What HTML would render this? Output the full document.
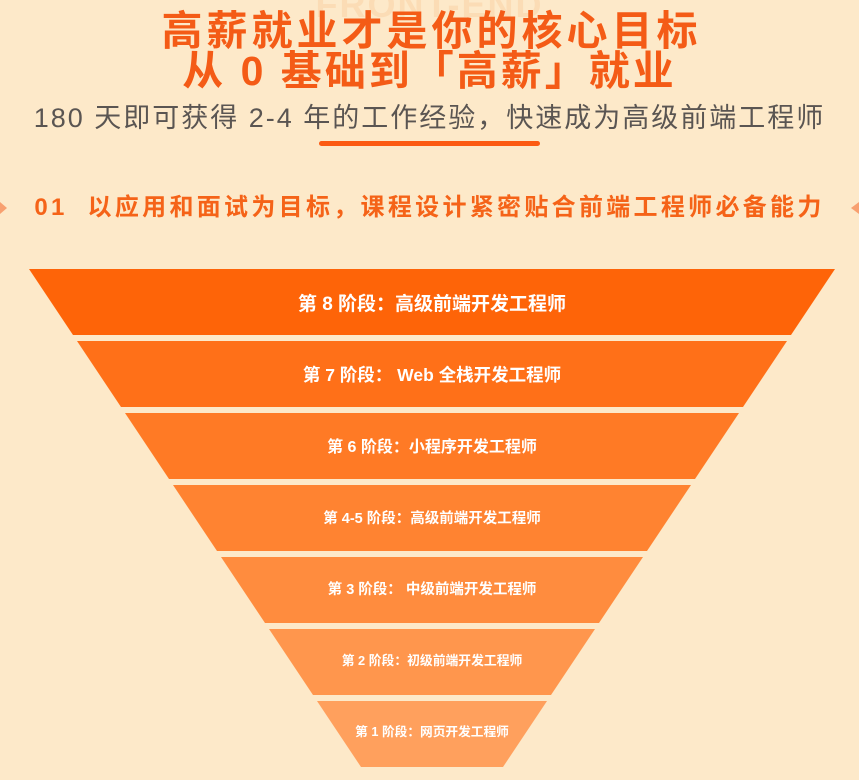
<!DOCTYPE html>
<html><head><meta charset="utf-8"><style>
body{margin:0;width:859px;height:780px;background:#fde9c9;overflow:hidden;position:relative;font-family:"Liberation Sans","Noto Sans CJK SC",sans-serif}
.t{position:absolute;left:0;width:859px;text-align:center;white-space:nowrap}
</style></head><body>
<div class="t" style="top:-16px;font-size:36px;font-weight:bold;color:#fbdcb5;letter-spacing:2px">FRONT-END</div>
<div class="t" style="top:10px;font-size:41px;font-weight:bold;color:#f45b16;line-height:42px;letter-spacing:4px;text-indent:4px">高薪就业才是你的核心目标</div>
<div class="t" style="top:50px;font-size:41px;font-weight:bold;color:#f45b16;line-height:42px;letter-spacing:3px">从 0 基础到「高薪」就业</div>
<div class="t" style="top:103px;font-size:27px;color:#5a5552;line-height:30px;letter-spacing:2px">180 天即可获得 2-4 年的工作经验，快速成为高级前端工程师</div>
<div style="position:absolute;left:319px;top:141px;width:221px;height:5px;border-radius:3px;background:#fc5a12"></div>
<div class="t" style="top:194px;font-size:24px;font-weight:bold;color:#f56318;line-height:28px;letter-spacing:3.3px">01&nbsp; 以应用和面试为目标，课程设计紧密贴合前端工程师必备能力</div>
<div style="position:absolute;left:0;top:202px;width:0;height:0;border-top:6px solid transparent;border-bottom:6px solid transparent;border-left:7px solid #f8a070"></div>
<div style="position:absolute;left:851px;top:202px;width:0;height:0;border-top:6px solid transparent;border-bottom:6px solid transparent;border-right:8px solid #f8a070"></div>
<svg width="859" height="780" style="position:absolute;left:0;top:0" font-family="Liberation Sans, Noto Sans CJK SC, sans-serif" font-weight="bold" fill="#fff" text-anchor="middle">
<polygon points="29,269 835,269 791,335 73,335" fill="#fe6408"/>
<polygon points="77,341 787,341 743,407 121,407" fill="#ff7018"/>
<polygon points="125,413 739,413 695,479 169,479" fill="#ff7a25"/>
<polygon points="173,485 691,485 647,551 217,551" fill="#ff8331"/>
<polygon points="221,557 643,557 599,623 265,623" fill="#ff8c3e"/>
<polygon points="269,629 595,629 551,695 313,695" fill="#ff964d"/>
<polygon points="317,701 547,701 503,767 361,767" fill="#ffa05d"/>
<g fill="#fff">
<text x="432" y="310" font-size="19">第 8 阶段：高级前端开发工程师</text>
<text x="432" y="381" font-size="17.5">第 7 阶段： Web 全栈开发工程师</text>
<text x="432" y="452" font-size="16">第 6 阶段：小程序开发工程师</text>
<text x="432" y="523" font-size="14.5">第 4-5 阶段：高级前端开发工程师</text>
<text x="432" y="594" font-size="14.5">第 3 阶段： 中级前端开发工程师</text>
<text x="432" y="665" font-size="12.8">第 2 阶段：初级前端开发工程师</text>
<text x="432" y="736" font-size="12.7">第 1 阶段：网页开发工程师</text>
</g>
</svg>
</body></html>
